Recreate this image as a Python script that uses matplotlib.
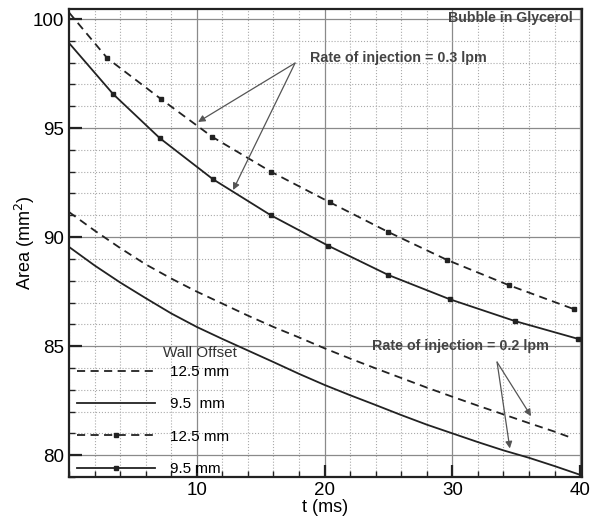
import matplotlib
matplotlib.use("Agg")
import matplotlib.pyplot as plt
from matplotlib.lines import Line2D
from matplotlib.ticker import MultipleLocator

plt.rcParams['font.family'] = ['Liberation Sans', 'DejaVu Sans']

# rate of injection = 0.3 lpm (markers)
t_03_125 = [0, 3.0, 7.2, 11.2, 15.8, 20.4, 25.0, 29.6, 34.4, 39.5]
a_03_125 = [100.3, 98.2, 96.33, 94.6, 93.0, 91.6, 90.23, 88.95, 87.8, 86.7]
t_03_95 = [0, 3.45, 7.1, 11.25, 15.8, 20.3, 25.0, 29.8, 34.9, 39.8]
a_03_95 = [98.9, 96.56, 94.54, 92.66, 91.0, 89.6, 88.26, 87.15, 86.15, 85.34]

# rate of injection = 0.2 lpm (no markers)
t_02_125 = [0, 2, 4, 6, 8, 10, 12, 14, 16, 18, 20, 22, 24, 26, 28, 30, 32, 34, 36, 38, 39.4]
a_02_125 = [91.15, 90.3, 89.5, 88.75, 88.1, 87.5, 86.95, 86.4, 85.88, 85.4, 84.9,
            84.43, 83.98, 83.54, 83.1, 82.68, 82.27, 81.87, 81.47, 81.08, 80.78]
t_02_95 = [0, 2, 4, 6, 8, 10, 12, 14, 16, 18, 20, 22, 24, 26, 28, 30, 32, 34, 36, 38, 40]
a_02_95 = [89.55, 88.7, 87.92, 87.2, 86.5, 85.88, 85.33, 84.8, 84.27, 83.73, 83.22,
           82.75, 82.3, 81.84, 81.4, 81.0, 80.6, 80.22, 79.88, 79.5, 79.1]

legend_labels = ["12.5 mm", "9.5  mm", "12.5 mm", "9.5 mm"]

fig = plt.figure(figsize=(5.93, 5.17), dpi=100)
ax = fig.add_axes([0.1164, 0.0774, 0.8651, 0.9052])

lc = '#222222'
lw = 1.3
ax.plot(t_03_125, a_03_125, color=lc, lw=lw, dashes=(4.5, 3),
        marker='s', ms=3.5, markevery=list(range(1, len(t_03_125))))
ax.plot(t_03_95, a_03_95, color=lc, lw=lw,
        marker='s', ms=3.5, markevery=list(range(1, len(t_03_95))))
ax.plot(t_02_125, a_02_125, color=lc, lw=lw, dashes=(4.5, 3))
ax.plot(t_02_95, a_02_95, color=lc, lw=lw)

ax.set_xlim(0, 40.15)
ax.set_ylim(79, 100.46)
ax.set_xticks([10, 20, 30, 40])
ax.set_yticks([80, 85, 90, 95, 100])
ax.xaxis.set_minor_locator(MultipleLocator(2))
ax.yaxis.set_minor_locator(MultipleLocator(1))
ax.tick_params(which='major', direction='in', length=9, width=1.6, labelsize=13.5, color=lc)
ax.tick_params(which='minor', direction='in', length=4, width=1.0, color=lc)
ax.grid(which='major', color='#8a8a8a', lw=0.9, ls='-')
ax.grid(which='minor', color='#aaaaaa', lw=0.8, ls=':')
ax.set_axisbelow(True)
for s in ax.spines.values():
    s.set_linewidth(1.6)
    s.set_color(lc)

ax.set_xlabel("t (ms)", fontsize=13, labelpad=0)
ax.set_ylabel("Area (mm$^2$)", fontsize=13, labelpad=-3)

tc = '#444444'
ax.text(39.45, 100.05, "Bubble in Glycerol", fontsize=10.2, fontweight='bold',
        color=tc, ha='right', va='center')
ax.text(18.87, 98.21, "Rate of injection = 0.3 lpm", fontsize=10.3, fontweight='bold',
        color=tc, ha='left', va='center')
ax.text(23.72, 85.0, "Rate of injection = 0.2 lpm", fontsize=10.3, fontweight='bold',
        color=tc, ha='left', va='center')

arr = dict(arrowstyle='-|>', color='#555555', lw=0.9, mutation_scale=10,
           shrinkA=0, shrinkB=0)
ax.annotate("", xy=(10.1, 95.28), xytext=(17.69, 97.98), arrowprops=arr)
ax.annotate("", xy=(12.84, 92.16), xytext=(17.69, 97.98), arrowprops=arr)
ax.annotate("", xy=(36.16, 81.79), xytext=(33.5, 84.27), arrowprops=arr)
ax.annotate("", xy=(34.5, 80.31), xytext=(33.5, 84.27), arrowprops=arr)

handles = [
    Line2D([], [], color=lc, lw=lw, dashes=(4.5, 3)),
    Line2D([], [], color=lc, lw=lw),
    Line2D([], [], color=lc, lw=lw, dashes=(4.5, 3), marker='s', ms=3.5),
    Line2D([], [], color=lc, lw=lw, marker='s', ms=3.5),
]
ax.legend(handles, legend_labels, loc='lower left', bbox_to_anchor=(0.0156, 0.002),
          frameon=False, fontsize=11, handlelength=5.1, handletextpad=1.0,
          labelspacing=1.2, borderpad=0, borderaxespad=0, markerfirst=True)
ax.text(0.183, 0.265, "Wall Offset", transform=ax.transAxes, fontsize=11,
        color='#333333', ha='left', va='center')

fig.savefig("out.png", dpi=100)
